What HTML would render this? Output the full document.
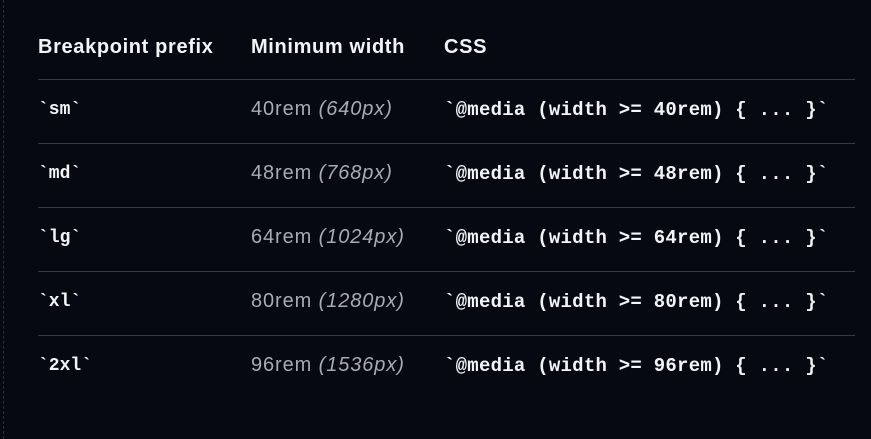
<!DOCTYPE html>
<html><head><meta charset="utf-8"><style>
html,body{margin:0;padding:0;}
body{width:871px;height:439px;background:#060911;position:relative;overflow:hidden;font-family:"Liberation Sans",sans-serif;}
.dash{position:absolute;left:3px;top:0;height:439px;border-left:1px dashed #2a2e38;}
.t{position:absolute;white-space:nowrap;}
.h{color:#f3f4f6;font-weight:bold;font-size:20px;letter-spacing:0.65px;top:36px;}
.line{position:absolute;left:38px;width:817px;height:1px;background:#363a45;}
.c1{left:38px;color:#f3f4f6;font-family:"Liberation Mono",monospace;font-weight:bold;font-size:18px;}
.c2{left:251px;color:#a8abb3;font-size:20px;letter-spacing:0.9px;}
.c2 i{font-style:italic;}
.c3{left:444px;color:#f3f4f6;font-family:"Liberation Mono",monospace;font-weight:bold;font-size:19px;letter-spacing:0.25px;}
</style></head><body>
<div class="dash"></div>
<div class="t h" style="left:38px">Breakpoint prefix</div>
<div class="t h" style="left:251px">Minimum width</div>
<div class="t h" style="left:444px">CSS</div>
<div class="line" style="top:79px"></div>
<div class="line" style="top:143px"></div>
<div class="line" style="top:207px"></div>
<div class="line" style="top:271px"></div>
<div class="line" style="top:335px"></div>

<div class="t c1" style="top:100px">`sm`</div>
<div class="t c2" style="top:98px">40rem <i>(640px)</i></div>
<div class="t c3" style="top:99px">`@media (width &gt;= 40rem) { ... }`</div>

<div class="t c1" style="top:164px">`md`</div>
<div class="t c2" style="top:162px">48rem <i>(768px)</i></div>
<div class="t c3" style="top:163px">`@media (width &gt;= 48rem) { ... }`</div>

<div class="t c1" style="top:228px">`lg`</div>
<div class="t c2" style="top:226px">64rem <i>(1024px)</i></div>
<div class="t c3" style="top:227px">`@media (width &gt;= 64rem) { ... }`</div>

<div class="t c1" style="top:292px">`xl`</div>
<div class="t c2" style="top:290px">80rem <i>(1280px)</i></div>
<div class="t c3" style="top:291px">`@media (width &gt;= 80rem) { ... }`</div>

<div class="t c1" style="top:356px">`2xl`</div>
<div class="t c2" style="top:354px">96rem <i>(1536px)</i></div>
<div class="t c3" style="top:355px">`@media (width &gt;= 96rem) { ... }`</div>
</body></html>
